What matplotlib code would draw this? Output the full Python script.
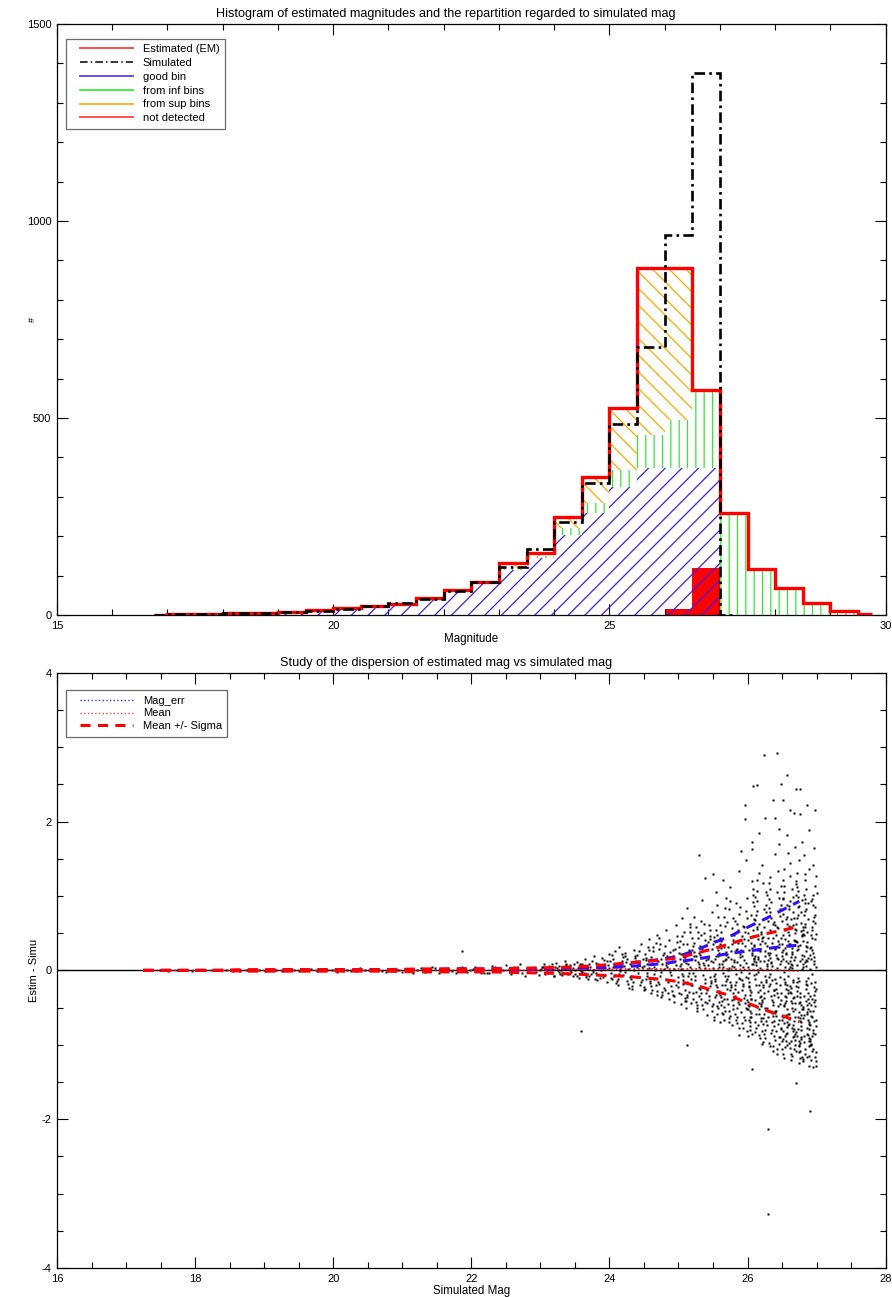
import numpy as np
import matplotlib
matplotlib.use("Agg")
import matplotlib.pyplot as plt
from matplotlib.ticker import MultipleLocator
from matplotlib.lines import Line2D
from matplotlib.legend_handler import HandlerLine2D

plt.rcParams["font.family"] = ["Liberation Sans", "DejaVu Sans"]
plt.rcParams["axes.unicode_minus"] = False
plt.rcParams["hatch.linewidth"] = 0.9

# ---- histogram (top panel): bin centres, 0.5 mag wide ----
bin_centers = [16.75, 17.25, 17.75, 18.25, 18.75, 19.25, 19.75, 20.25, 20.75,
               21.25, 21.75, 22.25, 22.75, 23.25, 23.75, 24.25, 24.75, 25.25,
               25.75, 26.25, 26.75, 27.25, 27.75, 28.25, 28.75, 29.25, 29.75]
est_counts = [1, 3, 3, 4, 5, 8, 12, 17, 23, 28, 42, 63, 85, 131, 158, 248, 350,
              525, 880, 880, 571, 259, 117, 69, 30, 10, 2]
good_counts = [1, 3, 3, 4, 5, 7, 11, 16, 21, 26, 39, 59, 79, 114, 145, 203, 259,
               326, 373, 373, 373, 0, 0, 0, 0, 0, 0]
inf_counts = [0, 0, 0, 0, 0, 0, 0, 0, 1, 1, 1, 1, 2, 4, 5, 17, 25,
              42, 84, 122, 198, 259, 117, 69, 30, 10, 2]
sup_counts = [0, 0, 0, 0, 0, 1, 1, 1, 1, 1, 2, 3, 4, 13, 8, 28, 66,
              157, 423, 385, 0, 0, 0, 0, 0, 0, 0]
notdet_counts = [0, 0, 0, 0, 0, 0, 0, 0, 0, 0, 0, 0, 0, 0, 0, 0, 0,
                 0, 0, 15, 119, 0, 0, 0, 0, 0, 0]

sim_centers = [16.75, 17.25, 17.75, 18.25, 18.75, 19.25, 19.75, 20.25, 20.75,
               21.25, 21.75, 22.25, 22.75, 23.25, 23.75, 24.25, 24.75, 25.25,
               25.75, 26.25, 26.75, 27.25]
sim_counts = [1, 3, 3, 4, 5, 8, 11, 16, 22, 31, 41, 62, 84, 121, 168, 235, 336,
              484, 680, 965, 1375, 0]

# ---- dispersion (bottom panel) ----
line_mag = [17.25, 17.75, 18.25, 18.75, 19.25, 19.75, 20.25, 20.75, 21.25, 21.75,
            22.25, 22.75, 23.25, 23.5, 23.75, 24.0, 24.25, 24.5, 24.75, 25.0,
            25.25, 25.5, 25.75, 26.0, 26.25, 26.5, 26.75]
mean_dy = [0.0, 0.0, 0.0, 0.0, 0.0, 0.0, 0.0, 0.0, 0.0, 0.0, 0.0, 0.0, 0.01, 0.01,
           0.01, 0.01, 0.02, 0.02, 0.02, 0.02, 0.02, 0.02, 0.02, 0.01, 0.01, 0.0, -0.01]
mean_plus_sigma = [0.0, 0.0, 0.0, 0.01, 0.01, 0.01, 0.01, 0.01, 0.02, 0.02, 0.02, 0.03,
                   0.04, 0.05, 0.06, 0.08, 0.10, 0.12, 0.14, 0.17, 0.23, 0.29, 0.36,
                   0.43, 0.49, 0.54, 0.59]
mean_minus_sigma = [0.0, 0.0, 0.0, -0.01, -0.01, -0.01, -0.01, -0.01, -0.02, -0.02,
                    -0.02, -0.03, -0.04, -0.05, -0.06, -0.07, -0.08, -0.10, -0.12,
                    -0.15, -0.20, -0.27, -0.34, -0.44, -0.53, -0.61, -0.69]
magerr_upper = [0.0, 0.0, 0.0, 0.0, 0.01, 0.01, 0.01, 0.01, 0.01, 0.02, 0.02, 0.02,
                0.03, 0.04, 0.05, 0.07, 0.09, 0.12, 0.15, 0.19, 0.27, 0.37, 0.46,
                0.58, 0.69, 0.81, 0.93]
magerr_lower = [0.0, 0.0, 0.0, 0.0, 0.0, 0.0, 0.0, 0.01, 0.01, 0.01, 0.01, 0.01,
                0.02, 0.03, 0.03, 0.04, 0.05, 0.07, 0.09, 0.12, 0.15, 0.19, 0.23,
                0.26, 0.29, 0.32, 0.34]

# scatter cloud: column edges (mag) and the estim-simu values read in each column
cloud_edges = [17.3, 17.8, 18.3, 18.8, 19.3, 19.8, 20.3, 20.8, 21.3, 21.8, 22.2, 22.6,
               23.0, 23.1, 23.2, 23.3, 23.4, 23.5, 23.6, 23.7, 23.8, 23.9, 24.0,
               24.1, 24.2, 24.3, 24.4, 24.5, 24.6, 24.7, 24.8, 24.9, 25.0, 25.1,
               25.2, 25.3, 25.4, 25.5, 25.6, 25.7, 25.8, 25.9, 26.0, 26.1, 26.2,
               26.3, 26.4, 26.5, 26.6, 26.7, 26.8, 26.9, 27.0]
cloud_dy = [
    [0.00, 0.01, -0.01, 0.00],
    [0.01, 0.00, -0.01, 0.00, 0.01],
    [0.00, -0.01, 0.01, 0.00, -0.01],
    [0.01, 0.00, -0.01, 0.01, 0.00, -0.01],
    [0.00, 0.01, -0.01, 0.00, 0.02, -0.01],
    [0.01, -0.01, 0.00, 0.02, -0.02, 0.01, 0.00],
    [-0.01, 0.02, 0.00, -0.02, 0.01, 0.03, -0.01, 0.00],
    [0.02, -0.01, 0.03, -0.02, 0.00, 0.01, -0.03, 0.02, 0.00],
    [-0.02, 0.03, 0.01, -0.03, 0.04, 0.00, -0.01, 0.02, -0.04, 0.01],
    [0.03, -0.02, 0.05, -0.04, 0.01, 0.02, -0.03, 0.04, 0.00, -0.01],
    [-0.03, 0.04, 0.01, -0.05, 0.06, -0.01, 0.02, -0.04, 0.03, 0.07],
    [0.05, -0.04, 0.02, -0.06, 0.08, 0.00, -0.02, 0.04, -0.07, 0.03],
    [0.02, -0.03, 0.05, -0.01, 0.08],
    [-0.04, 0.01, 0.06, -0.07, 0.03],
    [0.04, -0.02, 0.10, -0.05, 0.00],
    [-0.06, 0.07, 0.02, -0.03, 0.12],
    [0.05, -0.08, 0.01, 0.09, -0.02],
    [-0.05, 0.11, 0.03, -0.10, 0.06, -0.01],
    [0.08, -0.04, 0.15, -0.09, 0.02, -0.12],
    [-0.07, 0.04, 0.13, -0.02, 0.19, -0.11],
    [0.10, -0.13, 0.05, -0.06, 0.01, 0.17],
    [-0.09, 0.14, 0.03, -0.15, 0.07, 0.22],
    [0.12, -0.08, 0.21, -0.17, 0.04, -0.03, 0.26, -0.12],
    [-0.14, 0.09, -0.05, 0.18, 0.02, -0.20, 0.13, 0.31],
    [0.06, -0.18, 0.24, -0.09, 0.15, -0.02, -0.23, 0.11],
    [-0.11, 0.19, -0.25, 0.04, 0.28, -0.07, 0.13, -0.16],
    [0.21, -0.13, 0.08, -0.27, 0.35, -0.04, 0.16, -0.19],
    [-0.22, 0.14, -0.08, 0.31, 0.03, -0.30, 0.22, -0.12, 0.09, 0.42, -0.17],
    [0.18, -0.26, 0.05, -0.10, 0.37, -0.33, 0.12, 0.26, -0.05, -0.19, 0.48],
    [-0.15, 0.29, -0.36, 0.08, 0.21, -0.24, 0.44, -0.07, 0.15, -0.29, 0.02],
    [0.33, -0.12, 0.10, -0.39, 0.25, -0.21, 0.55, 0.04, -0.31, 0.17, -0.06],
    [-0.28, 0.19, -0.42, 0.07, 0.38, -0.15, 0.27, -0.35, 0.12, 0.61, -0.09],
    [0.24, -0.37, 0.13, -0.18, 0.46, -0.45, 0.06, 0.31, -0.26, 0.18, -0.08, 0.70,
     -0.32, 0.02, 0.39],
    [-0.41, 0.28, -0.11, 0.52, -0.29, 0.09, 0.35, -0.50, 0.16, -0.20, 0.63, -0.04,
     0.22, -0.36, 0.84],
    [0.33, -0.24, 0.11, -0.47, 0.58, -0.13, 0.25, -0.38, 0.04, 0.43, -0.55, 0.19,
     -0.08, 0.72, -0.30],
    [-0.34, 0.41, -0.17, 0.07, -0.52, 0.29, 0.66, -0.25, 0.14, -0.43, 0.50, -0.06,
     0.95, -0.31, 0.21],
    [0.27, -0.48, 0.12, -0.21, 0.55, -0.35, 0.38, -0.60, 0.03, 0.79, -0.14, 0.46,
     -0.40, 0.18, -0.27],
    [-0.45, 0.32, -0.12, 0.61, -0.58, 0.15, -0.28, 0.47, -0.36, 0.05, 0.88, -0.63,
     0.24, -0.19, 0.40, -0.51, 1.05, -0.07, 0.19, -0.33],
    [0.36, -0.54, 0.09, -0.25, 0.72, -0.41, 0.21, -0.66, 0.52, -0.14, 0.31, -0.47,
     0.98, -0.03, -0.36, 0.14, -0.59, 0.44, -0.20, 1.22],
    [-0.39, 0.57, -0.70, 0.11, -0.22, 0.83, -0.52, 0.26, -0.08, 0.41, -0.61, 0.18,
     -0.31, 1.12, -0.45, 0.35, -0.15, 0.65, -0.74, 0.03],
    [0.48, -0.29, -0.67, 0.22, -0.43, 0.91, -0.12, 0.37, -0.58, 0.07, 0.63, -0.35,
     -0.78, 0.29, -0.20, 1.34, -0.50, 0.14, 0.76, -0.05],
    [-0.56, 0.33, -0.18, 0.71, -0.44, 0.05, -0.82, 0.51, -0.27, 0.97, -0.62, 0.19,
     -0.09, 0.42, -0.71, 1.48, -0.37, 0.26, -0.50, 0.60],
    [0.41, -0.62, 0.17, -0.33, 0.86, -0.75, 0.08, -0.48, 0.55, -0.21, 1.20, -0.88,
     0.30, -0.10, -0.57, 0.69, -0.39, 0.12, -0.80, 1.02, -0.26, 0.46, -0.67, 0.23,
     -0.04, 1.63, -0.52, 0.37],
    [-0.70, 0.28, -0.45, 0.93, -0.16, 0.59, -0.91, 0.11, -0.36, 0.74, -0.58, 0.20,
     1.31, -0.83, -0.02, 0.49, -0.29, -0.64, 1.07, 0.35, -0.49, 0.03, -0.77, 0.62,
     -0.19, 1.85, -0.40, 0.15],
    [0.52, -0.80, 0.14, -0.37, 1.01, -0.59, 0.33, -0.96, 0.78, -0.22, -0.68, 0.40,
     -0.08, 1.42, -0.51, 0.24, -0.86, 0.66, -0.31, 0.06, 1.18, -0.73, 0.45, -0.15,
     -0.99, 0.88, -0.43, 2.05],
    [-0.62, 0.37, -0.93, 0.71, -0.27, 0.10, -0.75, 1.09, -0.46, 0.54, -1.02, 0.21,
     -0.13, 0.84, -0.57, 1.56, -0.35, 0.29, -0.84, 0.65, -0.05, -0.68, 1.25, 0.43,
     -0.21, -1.08, 0.96, -0.40],
    [0.61, -0.90, 0.25, -0.48, 1.14, -0.72, 0.44, -1.05, 0.08, -0.30, 0.82, -0.61,
     1.70, -0.17, 0.35, -0.95, 0.57, -0.40, 1.33, -0.79, 0.17, -0.09, -1.12, 0.73,
     -0.55, 0.98, -0.25, 1.90],
    [-0.66, 0.42, -1.00, 0.19, -0.35, 0.88, -0.81, 0.05, -0.52, 1.21, -0.15, 0.63,
     -1.12, 0.30, -0.74, 0.97, -0.44, 1.58, -0.92, 0.12, -0.27, 0.76, -0.60, 0.51,
     -1.18, 0.24, -0.08, 1.37, -0.85, 0.36, -0.48, 0.69, -0.98, 1.05, -0.20, 0.02,
     -0.71, 1.82],
    [0.47, -0.95, 0.14, -0.58, 1.10, -0.79, 0.33, -1.15, 0.71, -0.29, 0.03, -0.68,
     1.44, -0.44, 0.56, -1.04, 0.22, -0.86, 0.93, -0.13, -0.62, 1.27, -0.37, 0.40,
     -1.21, 0.79, -0.52, 0.09, -0.90, 1.66, -0.24, 0.61, -1.08, 0.18, -0.74, 1.02,
     -0.41, 2.12],
    [-0.83, 0.29, -0.46, 1.16, -1.10, 0.53, -0.21, 0.87, -0.70, 0.07, -1.25, 0.64,
     -0.34, 1.48, -0.92, 0.38, -0.56, 0.95, -0.16, -1.02, 0.21, 1.31, -0.64, 0.48,
     -0.88, 0.12, -1.17, 0.74, -0.30, 1.72, -0.79, 0.34, -0.49, 1.07, -0.97, 0.58,
     -0.10, -0.60],
    [0.55, -1.06, 0.17, -0.52, 1.22, -0.87, 0.39, -0.25, 0.90, -1.19, 0.06, -0.66,
     1.55, -0.41, 0.69, -0.96, 0.26, -0.79, 1.01, -0.14, -1.28, 0.47, -0.58, 1.36,
     -0.35, 0.13, -0.91, 0.80, -0.47, 1.89, -1.13, 0.31, -0.72, 0.62, -0.20, -1.00,
     0.96, -0.56],
    [-0.74, 0.44, -1.16, 0.21, -0.39, 1.13, -0.95, 0.66, -0.28, 0.02, -1.30, 0.85,
     -0.61, 1.42, -0.48, 0.32, -1.05, 0.74, -0.17, -0.84, 1.27, 0.15, -0.55, -1.22,
     0.93, -0.33, 0.49, -0.99, 1.64, -0.67, 0.27, -0.43, -1.10, 0.58, -0.22, 1.04,
     -0.88, 0.09],
]
# second reading of the dense faint part (23.0 - 27.0, 0.1 mag columns)
dense_edges = [23.0, 23.1, 23.2, 23.3, 23.4, 23.5, 23.6, 23.7, 23.8, 23.9, 24.0,
               24.1, 24.2, 24.3, 24.4, 24.5, 24.6, 24.7, 24.8, 24.9, 25.0, 25.1,
               25.2, 25.3, 25.4, 25.5, 25.6, 25.7, 25.8, 25.9, 26.0, 26.1, 26.2,
               26.3, 26.4, 26.5, 26.6, 26.7, 26.8, 26.9, 27.0]
dense_dy = [
    [0.00, 0.04, -0.05],
    [0.02, -0.02, 0.08],
    [-0.07, 0.03, 0.06],
    [0.01, -0.04, 0.09],
    [-0.05, 0.07, 0.03],
    [0.01, -0.07, 0.08],
    [-0.02, 0.05, -0.06],
    [0.08, -0.05, 0.01],
    [-0.03, 0.09, -0.10],
    [0.04, -0.06, 0.12],
    [0.03, -0.10, 0.16, -0.06],
    [0.07, -0.12, -0.01, 0.22],
    [-0.06, 0.19, -0.14, 0.02],
    [0.09, -0.21, 0.00, 0.17],
    [-0.09, 0.26, -0.15, 0.05],
    [0.06, -0.25, 0.17, -0.03, 0.28, -0.14],
    [-0.21, 0.09, 0.31, -0.12, 0.01, -0.28],
    [0.12, -0.18, 0.35, -0.02, -0.33, 0.24],
    [-0.26, 0.07, 0.19, -0.15, 0.41, -0.02],
    [0.15, -0.33, 0.02, 0.29, -0.20, 0.46],
    [-0.22, 0.09, 0.35, -0.41, 0.15, -0.05, 0.52, -0.30, 0.22, -0.13],
    [0.18, -0.33, 0.04, 0.44, -0.16, 0.27, -0.44, 0.10, -0.07, 0.58],
    [-0.19, 0.37, -0.42, 0.08, 0.20, -0.29, 0.51, -0.03, 0.14, -0.50],
    [0.24, -0.38, 0.10, -0.11, 0.47, -0.22, 0.03, 0.33, -0.47, 0.62],
    [-0.31, 0.16, 0.42, -0.55, 0.07, -0.09, 0.29, -0.44, 0.61, -0.17],
    [0.11, -0.42, 0.27, -0.22, 0.55, -0.05, -0.66, 0.36, -0.30, 0.09, 0.72, -0.48,
     0.20, -0.14, 0.45],
    [-0.33, 0.15, 0.60, -0.49, 0.04, -0.19, 0.39, -0.70, 0.25, -0.08, 0.84, -0.38,
     0.12, -0.57, 0.30],
    [0.22, -0.47, 0.06, 0.48, -0.27, -0.64, 0.32, -0.11, 0.70, -0.40, 0.15, -0.20,
     0.93, -0.55, 0.01],
    [-0.38, 0.18, -0.10, 0.55, -0.62, 0.28, -0.25, 0.04, 0.85, -0.45, 0.40, -0.71,
     0.11, -0.16, 0.66],
    [0.27, -0.40, 0.10, -0.66, 0.59, -0.21, 0.37, -0.02, -0.52, 0.80, -0.33, 0.14,
     -0.77, 0.46, -0.13],
    [-0.43, 0.21, -0.15, 0.63, -0.70, 0.34, -0.29, 0.04, 0.92, -0.55, 0.15, -0.38,
     0.50, -0.85, 0.27, -0.06, 0.75, -0.47, 0.09, -0.22, 1.10, -0.63],
    [0.33, -0.52, 0.07, -0.26, 0.80, -0.68, 0.42, -0.11, -0.87, 0.56, -0.35, 0.18,
     0.99, -0.44, -0.05, 0.26, -0.74, 0.68, -0.19, -0.58, 0.12, 1.22],
    [-0.48, 0.26, -0.72, 0.09, 0.58, -0.28, -0.91, 0.44, -0.13, 0.83, -0.55, 0.19,
     -0.40, 1.05, -0.64, 0.02, 0.37, -0.82, 0.70, -0.20, -0.50, 0.13],
    [0.44, -0.80, 0.17, -0.33, 0.92, -0.55, 0.06, -0.97, 0.62, -0.18, 0.30, -0.70,
     1.18, -0.42, 0.24, -0.88, 0.52, -0.09, -0.61, 0.78, -0.26, 0.11],
    [-0.57, 0.31, -0.82, 0.12, -0.36, 0.67, -0.99, 0.48, -0.20, 0.03, 0.88, -0.66,
     0.21, -0.45, 1.05, -0.78, 0.39, -0.12, -0.90, 0.59, -0.30, 0.15],
    [0.35, -0.88, 0.10, -0.47, 0.72, -0.63, 0.22, -1.06, 0.55, -0.31, -0.02, -0.76,
     0.96, -0.41, 0.28, -0.95, 0.60, -0.18, -0.58, 1.14, -0.84, 0.15, -0.36, 0.82,
     -1.03, 0.40, -0.12, -0.69, 0.48, -0.25],
    [-0.72, 0.25, -1.00, 0.58, -0.36, 0.05, -0.82, 0.86, -0.50, 0.18, -1.12, 0.41,
     -0.21, 0.99, -0.65, 0.30, -0.93, 0.07, -0.44, 0.69, -1.06, 0.36, -0.15, 1.20,
     -0.78, 0.50, -0.30, -0.88, 0.13, -0.55],
    [0.40, -0.95, 0.16, -0.62, 0.78, -0.28, -1.08, 0.55, -0.44, 0.02, 0.99, -0.75,
     0.27, -1.18, 0.63, -0.14, -0.52, 0.85, -0.90, 0.33, -0.36, 1.12, -0.68, 0.09,
     -1.00, 0.46, -0.22, -0.80, 0.70, -0.42],
    [-0.64, 0.33, -1.02, 0.11, -0.38, 0.74, -0.85, 0.49, -0.18, -1.15, 0.91, -0.52,
     0.20, -0.77, 0.04, 1.10, -0.95, 0.58, -0.30, -0.60, 0.38, -1.22, 0.82, -0.44,
     0.14, -0.70, 1.30, -0.10, -0.88, 0.52],
    [0.30, -0.80, 0.05, -1.08, 0.64, -0.47, 0.18, -0.92, 0.88, -0.25, -0.62, 0.42,
     -1.20, 0.12, -0.35, 1.02, -0.75, 0.55, -0.15, -1.00, 0.72, -0.55, 0.24, -1.28,
     0.96, -0.40, -0.05, -0.85, 0.48, -0.68],
]
# isolated points
outlier_mag = [21.87, 23.59, 25.12, 26.29, 26.30, 26.91, 26.24, 26.43, 26.57, 26.49,
               26.70, 26.76, 26.08, 26.13, 25.97, 26.37, 26.52, 26.62, 26.86, 26.98,
               25.97, 26.40, 26.76, 25.91, 26.06, 25.39, 25.50, 25.30, 25.87, 26.33,
               26.86, 26.07, 26.70]
outlier_dy = [0.26, -0.82, -1.00, -2.13, -3.28, -1.89, 2.90, 2.92, 2.63, 2.51,
              2.44, 2.44, 2.48, 2.49, 2.22, 2.29, 2.29, 2.16, 2.22, 2.15,
              2.03, 2.05, 2.10, 1.61, 1.73, 1.24, 1.29, 1.55, -0.87, -1.02,
              -1.17, -1.32, -1.52]


def idl_edges(centers):
    """Step edges like IDL psym=10: half-width segments at both ends."""
    c = np.asarray(centers, dtype=float)
    mids = 0.5 * (c[:-1] + c[1:])
    return np.concatenate([[c[0]], mids, [c[-1]]])


def column_points(col_edges, col_values, shift):
    """Spread each column's readings across the column width."""
    px, py = [], []
    for i, vals in enumerate(col_values):
        lo, hi = col_edges[i], col_edges[i + 1]
        n = len(vals)
        order = (np.arange(n) * 13) % n
        px.extend(lo + (order + shift) * (hi - lo) / n)
        py.extend(vals)
    return px, py


class InsetLine(HandlerLine2D):
    """Legend line that starts a bit in from the left edge of the handle box."""
    def __init__(self, inset, **kw):
        super().__init__(**kw)
        self.inset = inset

    def create_artists(self, legend, orig_handle, xdescent, ydescent, width, height,
                       fontsize, trans):
        return super().create_artists(legend, orig_handle, xdescent - self.inset,
                                      ydescent, width - self.inset, height,
                                      fontsize, trans)


def style_axes(ax):
    ax.tick_params(which="both", direction="in", top=True, right=True,
                   labelsize=8, width=0.8, pad=4)
    ax.tick_params(which="major", length=8)
    ax.tick_params(which="minor", length=4.3)
    for sp in ax.spines.values():
        sp.set_linewidth(0.9)


fig = plt.figure(figsize=(8.92, 12.97), dpi=100)
ax1 = fig.add_axes([0.0639, 0.5258, 0.929, 0.4557])
ax2 = fig.add_axes([0.0639, 0.0224, 0.929, 0.4588])
title_x = (0.5 - 0.0639) / 0.929   # titles are centred on the page, not the axes

# ---- top panel ----
edges = idl_edges(bin_centers)
good = np.array(good_counts, dtype=float)
inf_top = good + np.array(inf_counts)
sup_top = inf_top + np.array(sup_counts)

ax1.stairs(notdet_counts, edges, baseline=0, fill=True, color="red", lw=0, zorder=1)
ax1.stairs(good, edges, baseline=0, fill=True, facecolor="none",
           edgecolor="#4020e0", hatch="//", lw=0, zorder=2)
ax1.stairs(inf_top, edges, baseline=good, fill=True, facecolor="none",
           edgecolor="#33e833", hatch="||", lw=0, zorder=2)
ax1.stairs(sup_top, edges, baseline=inf_top, fill=True, facecolor="none",
           edgecolor="#ffaa00", hatch="\\\\", lw=0, zorder=2)
ax1.stairs(est_counts, edges, baseline=None, color="red", lw=2.4, zorder=3)
ax1.stairs(sim_counts, idl_edges(sim_centers), baseline=None, color="black",
           lw=1.9, ls=(0, (4, 1.6, 1, 1.6)), zorder=4)

ax1.set_xlim(15, 30)
ax1.set_ylim(0, 1500)
ax1.xaxis.set_major_locator(MultipleLocator(5))
ax1.xaxis.set_minor_locator(MultipleLocator(1))
ax1.yaxis.set_major_locator(MultipleLocator(500))
ax1.yaxis.set_minor_locator(MultipleLocator(100))
style_axes(ax1)
ax1.set_title("Histogram of estimated magnitudes and the repartition regarded to simulated mag",
              fontsize=9.1, pad=5, x=title_x)
ax1.set_xlabel("Magnitude", fontsize=8.3, labelpad=2)
ax1.set_ylabel("#", fontsize=6.5)
ax1.yaxis.set_label_coords(-0.0247, 0.5)

handles1 = [
    Line2D([], [], color="#ff4040", lw=1.3),
    Line2D([], [], color="black", lw=1.1, dashes=(5, 2, 1, 2)),
    Line2D([], [], color="#5a3cff", lw=1.3),
    Line2D([], [], color="#33ee33", lw=1.3),
    Line2D([], [], color="#ffaa22", lw=1.3),
    Line2D([], [], color="#ff4040", lw=1.3),
]
labels1 = ["Estimated (EM)", "Simulated", "good bin", "from inf bins",
           "from sup bins", "not detected"]
leg1 = ax1.legend(handles1, labels1, loc="upper left", bbox_to_anchor=(0.011, 0.975),
                  borderaxespad=0, fontsize=8, frameon=True, fancybox=False,
                  handlelength=5.5, handletextpad=0.9, labelspacing=0.34,
                  borderpad=0.5, handler_map={Line2D: InsetLine(6)})
leg1.get_frame().set_edgecolor("#444444")
leg1.get_frame().set_linewidth(0.9)

# ---- bottom panel ----
xs, ys = column_points(cloud_edges, cloud_dy, 0.5)
xd, yd = column_points(dense_edges, dense_dy, 0.0)
xs = list(xs) + list(xd) + outlier_mag
ys = list(ys) + list(yd) + outlier_dy
ax2.plot(xs, ys, "s", ms=1.6, color="black", mec="none", zorder=2)
ax2.axhline(0, color="black", lw=1.0, zorder=2.5)

ax2.plot(line_mag, magerr_upper, color="#3010ff", lw=2.2, dashes=(3.3, 2.4), zorder=3)
ax2.plot(line_mag, magerr_lower, color="#3010ff", lw=2.2, dashes=(3.3, 2.4), zorder=3)
ax2.plot(line_mag, mean_plus_sigma, color="red", lw=2.2, dashes=(3.3, 2.4), zorder=3.5)
ax2.plot(line_mag, mean_minus_sigma, color="red", lw=2.2, dashes=(3.3, 2.4), zorder=3.5)
ax2.plot(line_mag, mean_dy, color="red", lw=1.2, ls=":", zorder=4)

ax2.set_xlim(16, 28)
ax2.set_ylim(-4, 4)
ax2.xaxis.set_major_locator(MultipleLocator(2))
ax2.xaxis.set_minor_locator(MultipleLocator(0.5))
ax2.yaxis.set_major_locator(MultipleLocator(2))
ax2.yaxis.set_minor_locator(MultipleLocator(0.5))
style_axes(ax2)
ax2.set_title("Study of the dispersion of estimated mag vs simulated mag",
              fontsize=9.1, pad=5, x=title_x)
ax2.set_xlabel("Simulated Mag", fontsize=8.3, labelpad=1)
ax2.set_ylabel("Estim - Simu", fontsize=8)
ax2.yaxis.set_label_coords(-0.022, 0.5)

handles2 = [
    Line2D([], [], color="#3030ff", lw=1.0, ls=":"),
    Line2D([], [], color="#ff4040", lw=1.0, ls=":"),
    Line2D([], [], color="red", lw=2.2, dashes=(3.3, 2.4)),
]
labels2 = ["Mag_err", "Mean", "Mean +/- Sigma"]
leg2 = ax2.legend(handles2, labels2, loc="upper left", bbox_to_anchor=(0.011, 0.971),
                  borderaxespad=0, fontsize=8, frameon=True, fancybox=False,
                  handlelength=5.5, handletextpad=0.9, labelspacing=0.25,
                  borderpad=0.5, handler_map={Line2D: InsetLine(6)})
leg2.get_frame().set_edgecolor("#444444")
leg2.get_frame().set_linewidth(0.9)

fig.savefig("out.png", dpi=100)
